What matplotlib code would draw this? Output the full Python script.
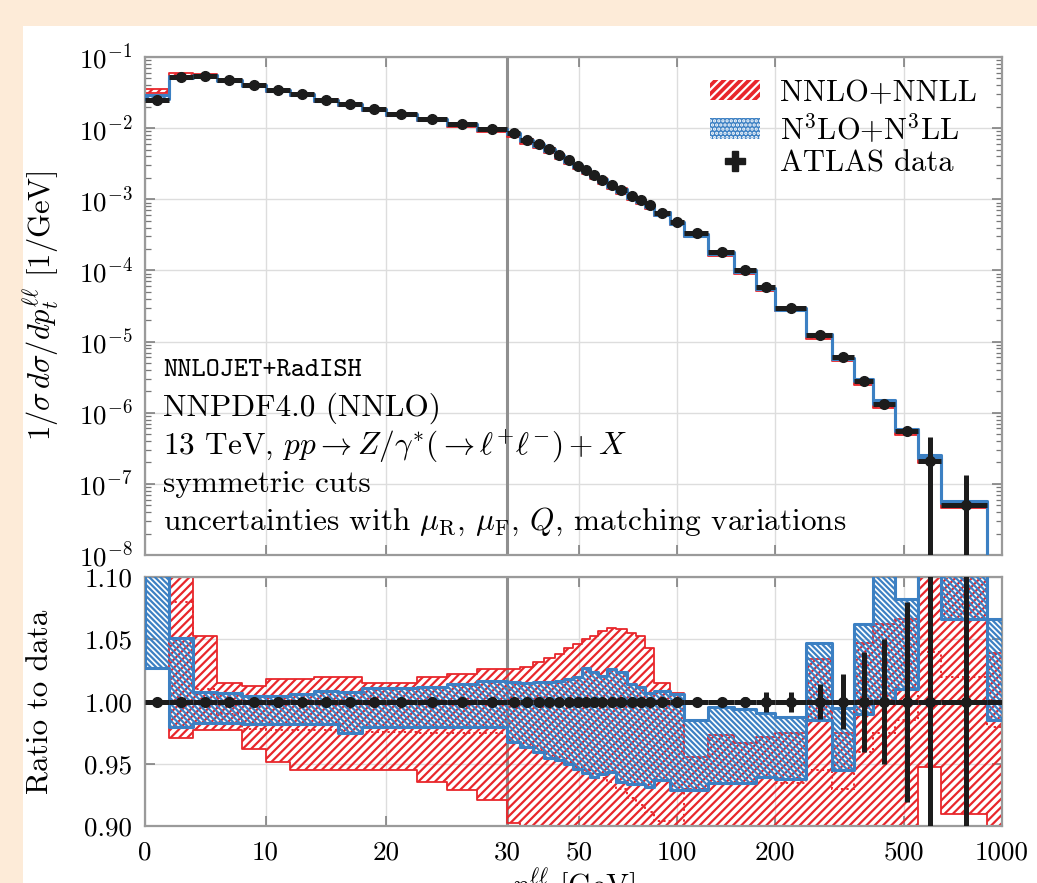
"""
Z/gamma* pt spectrum at 13 TeV: NNLO+NNLL and N3LO+N3LL vs ATLAS data, with ratio panel.
"""
import numpy as np
import matplotlib
matplotlib.use("Agg")
import matplotlib.pyplot as plt
from matplotlib.patches import Patch, Rectangle
from matplotlib.lines import Line2D
from matplotlib.ticker import FixedLocator, FixedFormatter, NullFormatter

plt.rcParams["font.family"] = "serif"
plt.rcParams["font.serif"] = ["cmr10"]
plt.rcParams["mathtext.fontset"] = "cm"
plt.rcParams["axes.formatter.use_mathtext"] = True
plt.rcParams["hatch.linewidth"] = 1.6

RED = "#E8262B"
BLUE = "#3C80C3"
BLACK = "#1c1c1c"
GRID = "#dddddd"
SPINE = "#9a9a9a"

# ATLAS 13 TeV bins in p_t^ll [GeV]
EDGES = [0, 2, 4, 6, 8, 10, 12, 14, 16, 18, 20, 22.5, 25, 27.5, 30, 33, 36, 39,
         42, 45, 48, 51, 54, 57, 61, 65, 70, 75, 80, 85, 95, 105, 125, 150, 175,
         200, 250, 300, 350, 400, 470, 550, 650, 900, 2500]

# 1/sigma dsigma/dpt [1/GeV]
DATA = [0.0249, 0.0519, 0.0546, 0.0475, 0.0404, 0.0343, 0.0299, 0.0249, 0.0216,
        0.0184, 0.0158, 0.0133, 0.0113, 0.00964, 0.00845, 0.0068, 0.00593,
        0.00505, 0.00419, 0.00356, 0.00297, 0.00258, 0.00219, 0.00187, 0.00158,
        0.00135, 0.00111, 0.00098, 0.00083, 0.00065, 0.000484, 0.000333,
        0.000183, 0.000101, 5.8e-5, 3.0e-5, 1.23e-5, 6.0e-6, 2.8e-6, 1.32e-6,
        5.5e-7, 2.1e-7, 5.0e-8, 4.0e-9]

# relative data uncertainty
DATA_ERR = [0.003, 0.003, 0.003, 0.003, 0.003, 0.003, 0.003, 0.003, 0.003, 0.003,
            0.003, 0.003, 0.003, 0.003, 0.003, 0.003, 0.003, 0.003, 0.003, 0.003,
            0.003, 0.003, 0.003, 0.003, 0.003, 0.003, 0.003, 0.003, 0.003, 0.003,
            0.003, 0.003, 0.003, 0.004, 0.008, 0.008, 0.014, 0.022, 0.040, 0.050,
            0.080, 1.2, 1.7, 2.0]

# ratio to data, NNLO+NNLL band
NNLO_LO = [1.25, 0.971, 0.977, 0.977, 0.962, 0.952, 0.945, 0.945, 0.945, 0.945,
           0.945, 0.936, 0.929, 0.921, 0.903, 0.895, 0.890, 0.885, 0.885, 0.885,
           0.885, 0.885, 0.885, 0.885, 0.885, 0.885, 0.885, 0.885, 0.885, 0.885,
           0.885, 0.885, 0.885, 0.885, 0.885, 0.885, 0.885, 0.885, 0.885, 0.885,
           0.885, 0.948, 0.910, 0.885]
NNLO_HI = [1.45, 1.14, 1.053, 1.015, 1.013, 1.018, 1.018, 1.020, 1.020, 1.015,
           1.015, 1.020, 1.022, 1.026, 1.026, 1.028, 1.032, 1.035, 1.038, 1.043,
           1.046, 1.050, 1.053, 1.057, 1.059, 1.058, 1.055, 1.053, 1.043, 1.015,
           1.007, 0.956, 0.973, 0.967, 0.972, 0.975, 1.034, 0.975, 1.047, 1.062,
           1.066, 1.15, 1.15, 1.039]
NNLO_MID = [1.35, 1.08, 1.01, 0.99, 0.978, 0.977, 0.977, 0.977, 0.977, 0.976,
            0.976, 0.975, 0.975, 0.975, 0.972, 0.968, 0.963, 0.959, 0.955, 0.952,
            0.948, 0.945, 0.942, 0.939, 0.936, 0.930, 0.923, 0.917, 0.912, 0.904,
            0.897, 0.930, 0.935, 0.935, 0.940, 0.935, 0.945, 0.930, 0.960, 0.975,
            0.985, 1.040, 1.020, 0.980]

# ratio to data, N3LO+N3LL band
N3LO_LO = [1.027, 0.980, 0.983, 0.983, 0.982, 0.982, 0.982, 0.982, 0.975, 0.980,
           0.980, 0.980, 0.980, 0.980, 0.968, 0.964, 0.960, 0.955, 0.953, 0.950,
           0.946, 0.943, 0.940, 0.942, 0.944, 0.936, 0.934, 0.934, 0.932, 0.937,
           0.929, 0.929, 0.935, 0.935, 0.940, 0.938, 0.985, 0.945, 0.990, 1.000,
           1.010, 1.110, 1.066, 0.985]
N3LO_HI = [1.17, 1.051, 1.008, 1.007, 1.005, 1.005, 1.006, 1.009, 1.008, 1.011,
           1.011, 1.012, 1.014, 1.017, 1.016, 1.015, 1.016, 1.016, 1.017, 1.018,
           1.020, 1.027, 1.024, 1.021, 1.026, 1.024, 1.014, 1.012, 1.007, 1.009,
           1.006, 0.985, 0.996, 0.994, 0.991, 0.988, 1.047, 0.995, 1.062, 1.15,
           1.082, 1.20, 1.15, 1.066]

XTICKS = [0, 10, 20, 30, 50, 100, 200, 500, 1000]
XTICKLABELS = ["0", "10", "20", "30", "50", "100", "200", "500", "1000"]
RTICKS = [0.90, 0.95, 1.00, 1.05, 1.10]
RTICKLABELS = ["0.90", "0.95", "1.00", "1.05", "1.10"]

INFO = ["NNPDF4.0 (NNLO)",
        r"13 TeV, $pp \to Z/\gamma^{*}(\to \ell^{+}\ell^{-}) + X$",
        "symmetric cuts",
        r"uncertainties with $\mu_{\mathrm{R}}$, $\mu_{\mathrm{F}}$, $Q$, matching variations"]

# linear up to 30 GeV, logarithmic above
SPLIT = 30.0
K = 26.93


def fwd(x):
    x = np.asarray(x, float)
    return np.where(x <= SPLIT, x, SPLIT + K * np.log10(np.maximum(x, SPLIT) / SPLIT))


def inv(u):
    u = np.asarray(u, float)
    return np.where(u <= SPLIT, u, SPLIT * 10 ** ((np.clip(u, SPLIT, 300) - SPLIT) / K))


def draw_band(ax, lo, hi, scale, color, hatch, lw, z):
    lo = np.asarray(lo) * scale
    hi = np.asarray(hi) * scale
    ax.fill_between(EDGES, np.append(lo, lo[-1]), np.append(hi, hi[-1]), step="post",
                    facecolor="none", edgecolor=color, hatch=hatch, lw=lw, zorder=z)


def style_axis(ax):
    ax.set_xscale("function", functions=(fwd, inv))
    ax.set_xlim(0, 1000)
    ax.xaxis.set_major_locator(FixedLocator(XTICKS))
    ax.set_axisbelow(True)
    ax.grid(True, which="major", color=GRID, lw=1.0)
    ax.axvline(SPLIT, color="#8f8f8f", lw=2.2, zorder=1.5)
    for sp in ax.spines.values():
        sp.set_color(SPINE)
        sp.set_linewidth(1.6)
    ax.tick_params(which="both", direction="in", top=True, right=True,
                   color="#777777", labelsize=19.5, pad=9)
    ax.tick_params(which="major", length=7, width=1.1)
    ax.tick_params(which="minor", length=4, width=0.9)


def main():
    data = np.array(DATA)
    rel = np.array(DATA_ERR)
    edges = np.array(EDGES, float)
    centers = 0.5 * (edges[:-1] + edges[1:])
    halfw = 0.5 * (edges[1:] - edges[:-1])

    fig = plt.figure(figsize=(10.37, 8.83), dpi=100)
    fig.patch.set_facecolor("#FDEBD8")
    fig.add_artist(Rectangle((23 / 1037, 0), 1, 1 - 26 / 883, transform=fig.transFigure,
                             facecolor="white", edgecolor="none", zorder=-10))

    ax = fig.add_axes([0.1398, 0.3715, 0.8264, 0.5639])
    axr = fig.add_axes([0.1398, 0.0640, 0.8264, 0.2825])

    # ---- top panel ----
    style_axis(ax)
    ax.set_yscale("log")
    ax.set_ylim(1e-8, 1e-1)
    ax.xaxis.set_major_formatter(NullFormatter())
    draw_band(ax, NNLO_LO, NNLO_HI, data, RED, "////", 1.3, 2)
    draw_band(ax, N3LO_LO, N3LO_HI, data, BLUE, "\\\\\\\\\\\\", 2.2, 3)
    lower = np.minimum(data * rel, data * 0.999)
    ax.errorbar(centers, data, xerr=halfw, yerr=[lower, data * rel], fmt="o",
                color=BLACK, ms=7, elinewidth=3.6, capsize=0, zorder=5)
    ax.set_ylabel(r"$1/\sigma\,d\sigma/dp_t^{\ell\ell}$ [1/GeV]", fontsize=22)
    ax.yaxis.set_label_coords(-0.098, 0.5)

    ax.text(0.021, 0.370, "NNLOJET+RadISH", family="cmtt10", fontsize=19.5,
            transform=ax.transAxes, va="center", zorder=6)
    for i, line in enumerate(INFO):
        ax.text(0.021, 0.295 - 0.0763 * i, line, fontsize=22.5,
                transform=ax.transAxes, va="center", zorder=6)

    handles = [Patch(facecolor=RED, edgecolor="white", hatch="////", lw=0),
               Patch(facecolor=BLUE, edgecolor="white", hatch="....", lw=0),
               Line2D([], [], ls="none", marker="P", ms=15, color=BLACK)]
    labels = ["NNLO+NNLL", r"N$^3$LO+N$^3$LL", "ATLAS data"]
    ax.legend(handles, labels, loc="upper left", bbox_to_anchor=(0.659, 0.955),
              frameon=False, fontsize=22, handlelength=1.65, handleheight=0.65,
              handletextpad=0.65, labelspacing=0.15, borderpad=0, borderaxespad=0)

    # ---- ratio panel ----
    style_axis(axr)
    axr.set_ylim(0.90, 1.10)
    axr.yaxis.set_major_locator(FixedLocator(RTICKS))
    axr.yaxis.set_major_formatter(FixedFormatter(RTICKLABELS))
    axr.xaxis.set_major_formatter(FixedFormatter(XTICKLABELS))
    axr.tick_params(axis="x", pad=10)
    draw_band(axr, NNLO_LO, NNLO_HI, 1.0, RED, "////", 1.3, 2)
    axr.stairs(NNLO_MID, EDGES, color=RED, ls=(0, (1.2, 1.6)), lw=1.4, zorder=2.5)
    draw_band(axr, N3LO_LO, N3LO_HI, 1.0, BLUE, "\\\\\\\\\\\\", 2.2, 3)
    axr.errorbar(centers, np.ones_like(centers), xerr=halfw, yerr=rel, fmt="o",
                 color=BLACK, ms=7, elinewidth=3.6, capsize=0, zorder=5)
    axr.set_ylabel("Ratio to data", fontsize=22.5)
    axr.yaxis.set_label_coords(-0.105, 0.5)
    axr.set_xlabel(r"$p_t^{\ell\ell}$ [GeV]", fontsize=22)
    axr.xaxis.set_label_coords(0.5, -0.158)

    fig.savefig("out.png", dpi=100, facecolor=fig.get_facecolor())
    plt.close(fig)


if __name__ == "__main__":
    main()
